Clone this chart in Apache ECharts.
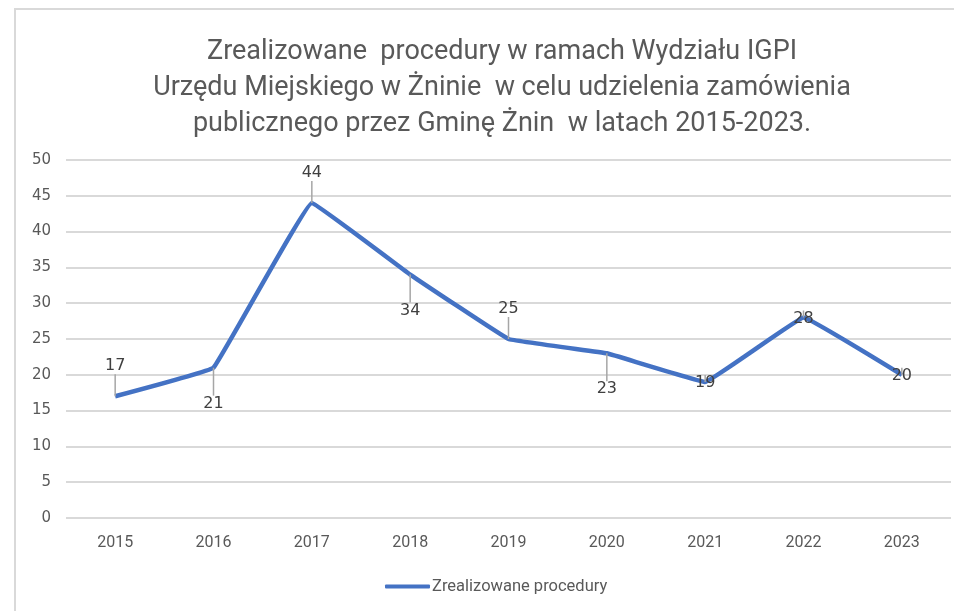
<!DOCTYPE html>
<html>
<head>
<meta charset="utf-8">
<title>Zrealizowane procedury</title>
<script src="https://cdn.jsdelivr.net/npm/echarts@6/dist/echarts.min.js"></script>
<style>
  html, body { margin: 0; padding: 0; background: #fff; }
  #chart { width: 954px; height: 611px; }
</style>
</head>
<body>
<div id="chart"></div>
<script>
// dane
var years = ['2015', '2016', '2017', '2018', '2019', '2020', '2021', '2022', '2023'];
var procedures = [17, 21, 44, 34, 25, 23, 19, 28, 20];
// gdzie etykieta: nad, pod albo na punkcie
var labelSide = ['above', 'below', 'above', 'below', 'above', 'below', 'on', 'on', 'on'];
var yTicks = { min: 0, max: 50, step: 5 };
var seriesName = 'Zrealizowane procedury';
var chartTitle = 'Zrealizowane  procedury w ramach Wydziału IGPI\nUrzędu Miejskiego w Żninie  w celu udzielenia zamówienia\npublicznego przez Gminę Żnin  w latach 2015-2023.';

var myChart = echarts.init(document.getElementById('chart'));

var sideOffset = { above: -30, below: 36, on: 1 };

myChart.setOption({
  backgroundColor: '#fff',
  animation: false,
  title: {
    text: chartTitle,
    left: 497,
    top: 29,
    textAlign: 'center',
    textStyle: {
      fontFamily: 'Roboto',
      fontSize: 27,
      fontWeight: 'normal',
      lineHeight: 36,
      color: '#595959'
    }
  },
  graphic: [{
    type: 'rect',
    shape: { x: 15, y: 9, width: 960, height: 620 },
    style: { fill: 'none', stroke: '#d9d9d9', lineWidth: 2 },
    silent: true
  }],
  legend: {
    data: [seriesName],
    left: 380,
    top: 573,
    icon: 'roundRect',
    itemWidth: 45,
    itemHeight: 4,
    itemGap: 2,
    textStyle: { fontFamily: 'Roboto', fontSize: 16.5, color: '#595959', padding: [0, 0, 0, -3] }
  },
  grid: { left: 66, right: 3, top: 160, bottom: 93 },
  xAxis: {
    type: 'category',
    data: years,
    boundaryGap: true,
    axisLine: { show: false },
    axisTick: { show: false },
    axisLabel: { margin: 17, fontFamily: 'Roboto', fontSize: 16, color: '#595959' }
  },
  yAxis: {
    type: 'value',
    min: yTicks.min,
    max: yTicks.max,
    interval: yTicks.step,
    axisLine: { show: false },
    axisTick: { show: false },
    axisLabel: { margin: 15, fontFamily: 'DejaVu Sans', fontSize: 15, color: '#595959' },
    splitLine: { lineStyle: { color: '#d9d9d9', width: 2 } }
  },
  series: [{
    name: seriesName,
    type: 'line',
    data: procedures,
    smooth: 0.05,
    symbol: 'circle',
    symbolSize: 0.1,
    itemStyle: { color: '#4472C4' },
    lineStyle: { color: '#4472C4', width: 4.5 },
    label: {
      show: true,
      position: 'inside',
      fontFamily: 'DejaVu Sans',
      fontSize: 16,
      color: '#404040'
    },
    labelLine: {
      show: true,
      lineStyle: { color: '#a6a6a6', width: 1.5 }
    },
    labelLayout: function (params) {
      return { dy: sideOffset[labelSide[params.dataIndex]] };
    }
  }]
});

window.onresize = function () {
  myChart.resize();
};
</script>
</body>
</html>
